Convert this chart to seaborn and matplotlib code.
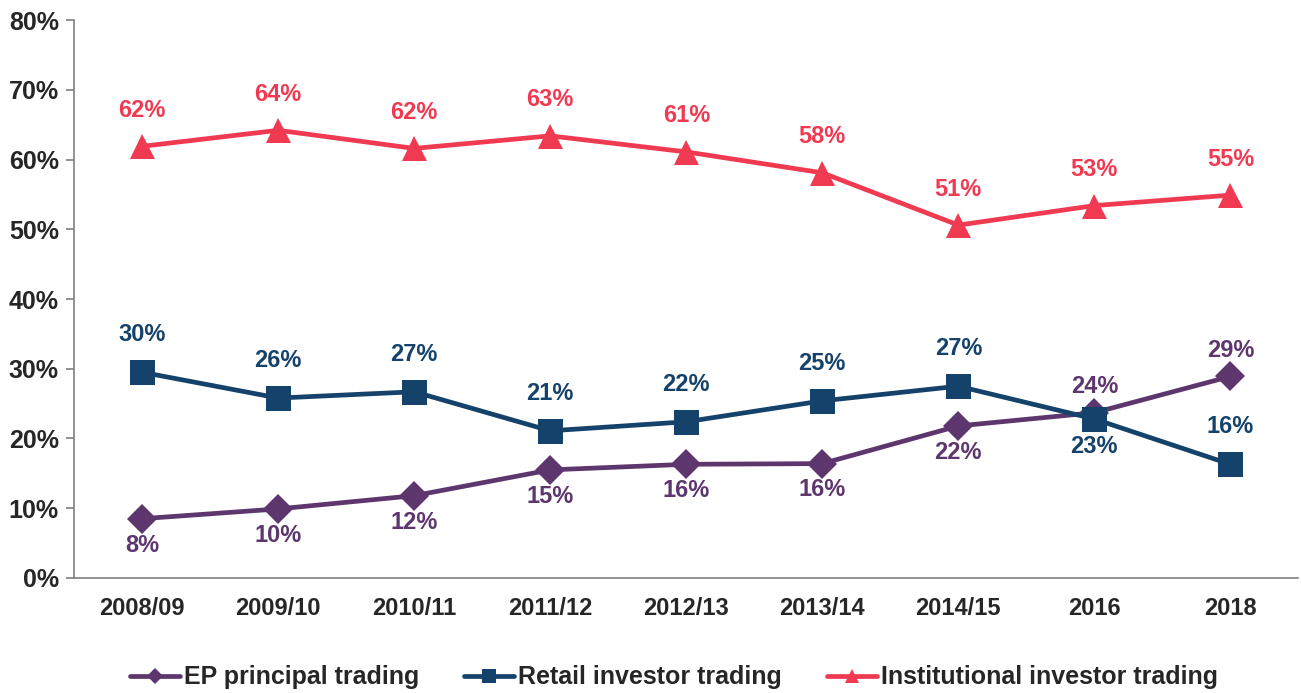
import matplotlib
matplotlib.use("Agg")
import matplotlib.pyplot as plt
import seaborn as sb
import pandas as pd
import numpy as np

periods = ["2008/09", "2009/10", "2010/11", "2011/12", "2012/13", "2013/14", "2014/15", "2016", "2018"]
ep_principal = [8.5, 9.9, 11.8, 15.5, 16.3, 16.4, 21.8, 23.7, 28.9]
retail = [29.5, 25.8, 26.7, 21.1, 22.4, 25.4, 27.5, 22.8, 16.3]
institutional = [61.9, 64.2, 61.6, 63.4, 61.1, 58.1, 50.6, 53.4, 54.9]

ep_labels = ["8%", "10%", "12%", "15%", "16%", "16%", "22%", "24%", "29%"]
retail_labels = ["30%", "26%", "27%", "21%", "22%", "25%", "27%", "23%", "16%"]
inst_labels = ["62%", "64%", "62%", "63%", "61%", "58%", "51%", "53%", "55%"]

names = ["EP principal trading", "Retail investor trading", "Institutional investor trading"]
colors = {names[0]: "#5E366E", names[1]: "#15426A", names[2]: "#F03A52"}

sb.set_style("white")
plt.rcParams['font.family'] = ['Liberation Sans', 'DejaVu Sans']

df = pd.DataFrame({
    'period': periods * 3,
    'value': ep_principal + retail + institutional,
    'series': [names[0]] * 9 + [names[1]] * 9 + [names[2]] * 9,
})
df['x'] = list(range(9)) * 3

fig = plt.figure(figsize=(13.01, 6.93), dpi=100)
ax = fig.add_axes([0.057, 0.166, 0.941, 0.805])

sizes = {names[0]: 15, names[1]: 18, names[2]: 18}
marks = {names[0]: 'D', names[1]: 's', names[2]: '^'}
for name in names:
    sub = df[df['series'] == name]
    sb.lineplot(data=sub, x='x', y='value', ax=ax, color=colors[name], lw=3.4,
                marker=marks[name], markersize=sizes[name], markeredgewidth=0,
                label=name)

# data labels: offsets in points (positive = above)
ep_off = [-19, -19, -19, -19, -19, -19, -19, 19, 19]
retail_off = [27, 27, 27, 27, 27, 27, 27, -20, 27]
inst_off = [26] * 9
for vals, labs, offs, name in [(ep_principal, ep_labels, ep_off, names[0]),
                                (retail, retail_labels, retail_off, names[1]),
                                (institutional, inst_labels, inst_off, names[2])]:
    for i, (v, t, o) in enumerate(zip(vals, labs, offs)):
        ax.annotate(t, (i, v), xytext=(0, o), textcoords='offset points',
                    ha='center', va='center', fontsize=17, fontweight='bold',
                    color=colors[name])

ax.set_xlim(-0.5, 8.5)
ax.set_ylim(0, 80)
ax.set_xticks(range(9))
ax.set_xticklabels(periods, fontsize=17, fontweight='bold')
ax.set_xticks(np.arange(-0.5, 9, 1), minor=True)
ax.tick_params(axis='x', which='major', length=0, pad=14)
ax.tick_params(axis='x', which='minor', length=6, color='#808080', width=1.2)
ax.set_yticks(range(0, 81, 10))
ax.set_yticklabels([f"{v}%" for v in range(0, 81, 10)], fontsize=18, fontweight='bold')
ax.tick_params(axis='y', length=6, color='#808080', width=1.2, pad=5, left=True)
ax.set_xlabel("")
ax.set_ylabel("")
for s in ['top', 'right']:
    ax.spines[s].set_visible(False)
for s in ['left', 'bottom']:
    ax.spines[s].set_color('#808080')
    ax.spines[s].set_linewidth(1.2)

leg = ax.legend(loc='lower center', bbox_to_anchor=(0.49, -0.24), ncol=3, frameon=False,
                prop={'weight': 'bold', 'size': 18},
                handlelength=2.0, handletextpad=0.15, columnspacing=1.8, markerscale=0.55)

fig.savefig("out.png", dpi=100)
